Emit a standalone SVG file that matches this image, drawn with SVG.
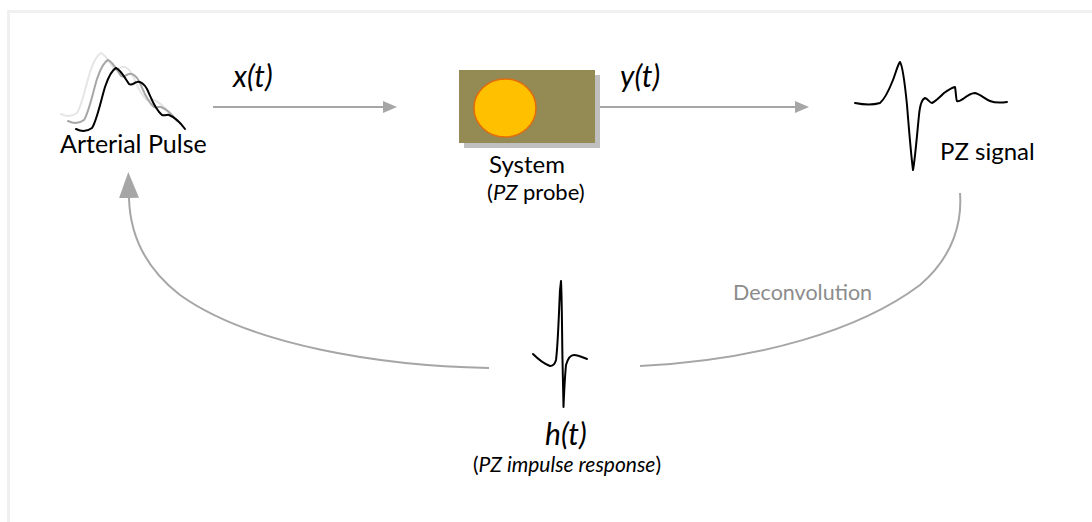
<svg xmlns="http://www.w3.org/2000/svg" width="1092" height="522" viewBox="0 0 1092 522">
<style>
.t{font-family:Lato,"Open Sans","Liberation Sans",sans-serif;fill:#000;font-size:24px}
.i{font-style:italic}
.conn{fill:none;stroke:#a6a6a6;stroke-width:2}
.wave{fill:none;stroke:#000;stroke-width:2;stroke-linejoin:round;stroke-linecap:round}
</style>
<defs>
<marker id="ah" viewBox="0 0 14 12" refX="0" refY="6" markerWidth="14" markerHeight="12" markerUnits="userSpaceOnUse" orient="auto">
<path d="M0,0 L14,6 L0,12 Z" fill="#a6a6a6"/>
</marker>
<marker id="ahBig" viewBox="0 0 26 20" refX="0" refY="10" markerWidth="26" markerHeight="20" markerUnits="userSpaceOnUse" orient="auto">
<path d="M0,0 L26,10 L0,20 Z" fill="#a6a6a6"/>
</marker>
</defs>
<rect x="0" y="0" width="1092" height="522" fill="#fff"/>
<rect x="8.5" y="11.5" width="1100" height="530" fill="none" stroke="#f0f0f0" stroke-width="3"/>

<g id="connectors">
<line class="conn" x1="213" y1="107" x2="383" y2="107" marker-end="url(#ah)"/>
<line class="conn" x1="600" y1="107" x2="795" y2="107" marker-end="url(#ah)"/>
<path class="conn" d="M489,368 C380,366 250,345 180,295 C145,268 130,235 129,198" marker-end="url(#ahBig)"/>
<path class="conn" d="M640,366 C760,360 860,330 920,285 C955,255 962,220 960,193"/>
<text class="t" x="733" y="300" style="fill:#8c8c8c;font-size:21.5px">Deconvolution</text>
</g>

<g id="arterial-pulse">
<path class="wave" style="stroke:#e6e6e6" transform="translate(-15,-15)" d="M76,129 C82,132 88,131 92,128 C97,120 101,100 105,87 C108,78 112,70 116,68 C120,69 125,78 129,84 C132,86 135,82 137,82 C141,81 144,84 147,89 C151,97 154,108 162,115 C165,116 168,114 169,115 C174,117 180,122 185,129"/>
<path class="wave" style="stroke:#a6a6a6" transform="translate(-8,-8)" d="M76,129 C82,132 88,131 92,128 C97,120 101,100 105,87 C108,78 112,70 116,68 C120,69 125,78 129,84 C132,86 135,82 137,82 C141,81 144,84 147,89 C151,97 154,108 162,115 C165,116 168,114 169,115 C174,117 180,122 185,129"/>
<path class="wave" d="M76,129 C82,132 88,131 92,128 C97,120 101,100 105,87 C108,78 112,70 116,68 C120,69 125,78 129,84 C132,86 135,82 137,82 C141,81 144,84 147,89 C151,97 154,108 162,115 C165,116 168,114 169,115 C174,117 180,122 185,129"/>
<text class="t" x="60" y="153" style="font-size:25px">Arterial Pulse</text>
</g>

<g id="system">
<rect x="464" y="75" width="136" height="73" fill="#bfbfbf"/>
<rect x="459" y="70" width="136" height="73" fill="#948a54"/>
<ellipse cx="505" cy="108" rx="31" ry="29" fill="#ffc000" stroke="#e46c0a" stroke-width="1.5"/>
<text class="t" x="489" y="173">System</text>
<text class="t" x="487" y="200" style="font-size:22px">(<tspan class="i">PZ</tspan> probe)</text>
</g>

<g id="pz-signal">
<path class="wave" d="M855,103 C860,104 870,106 880,103 C885,99 889,90 893,80 C896,72 898,64 900,62 C903,66 905,85 907,105 C909,130 911,155 913,170 C915,160 917,135 919,115 C920,105 922,99 925,98 C928,99 930,103 932,103 C936,101 940,97 944,93 C948,90 951,88 955,87 C956,92 956,100 957,101 C959,102 961,100 963,99 C968,95 972,93 975,93 C980,94 985,99 990,101 C995,103 1000,103 1007,102"/>
<text class="t" x="940" y="160">PZ signal</text>
</g>

<g id="labels-xy">
<text class="t i" x="233" y="87" style="font-size:30px">x(t)</text>
<text class="t i" x="620" y="87" style="font-size:30px">y(t)</text>
</g>

<g id="impulse">
<path class="wave" d="M533,354 C537,358 542,363 550,366 C553,366 555,364 556,360 C558,345 559,310 560,290 L561,281 C562,300 562,335 562.5,360 L563.5,407 C564,395 565,375 566,365 C568,358 570,355 574,355 C578,355 582,357 587,359"/>
<text class="t i" x="545" y="445" style="font-size:30px">h(t)</text>
<text class="t" x="567" y="472" style="font-size:21px" text-anchor="middle">(<tspan class="i">PZ impulse response</tspan>)</text>
</g>
</svg>
